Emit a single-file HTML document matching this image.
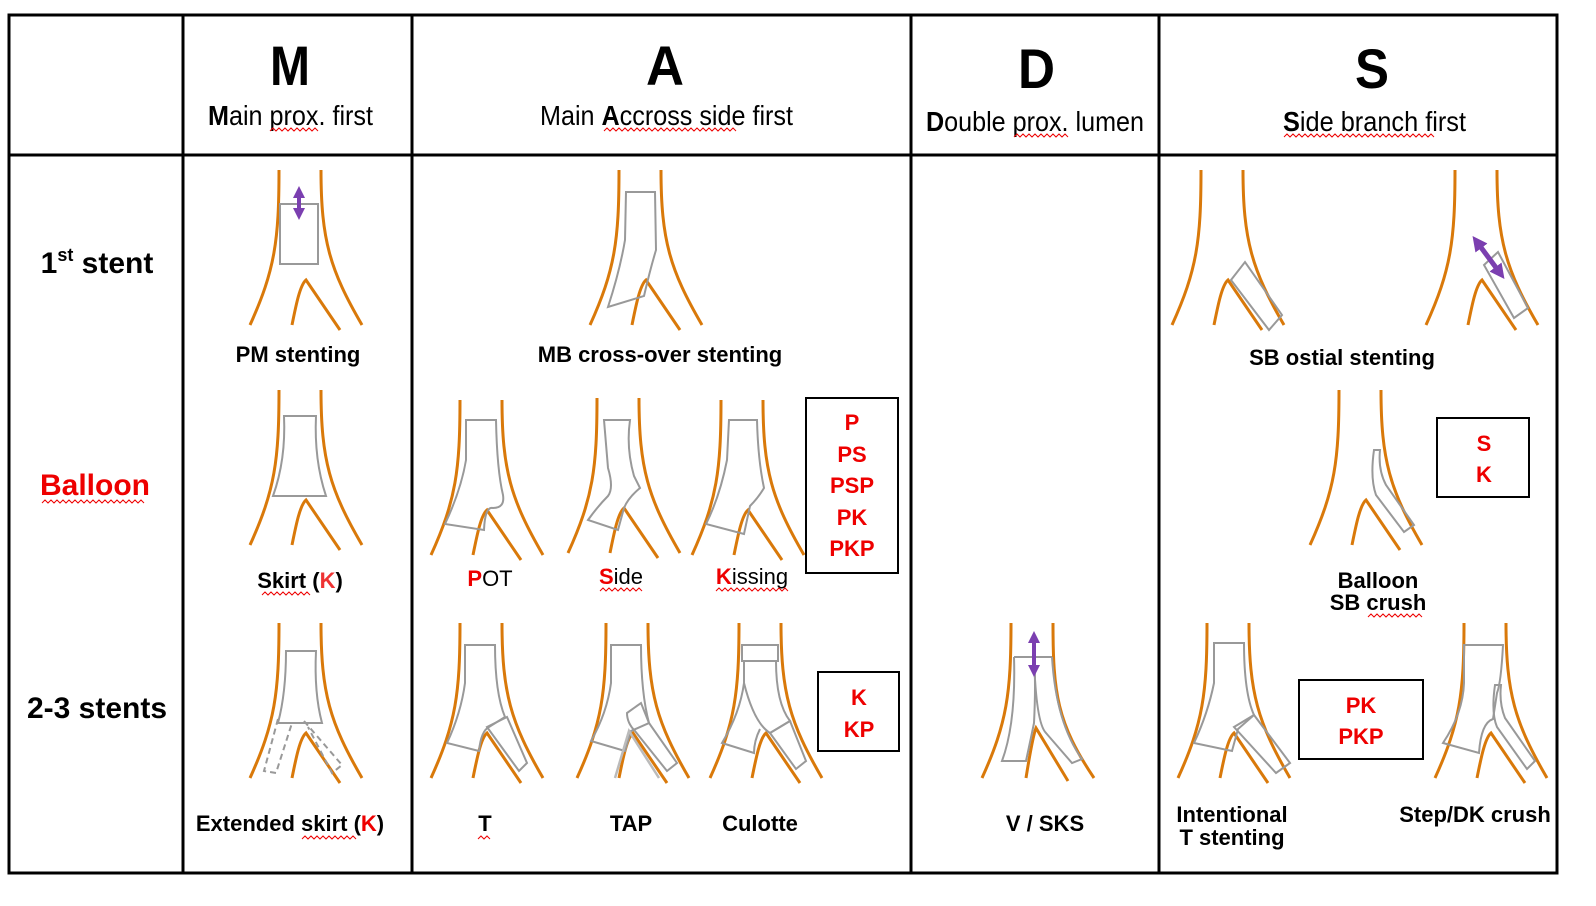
<!DOCTYPE html>
<html><head><meta charset="utf-8"><style>
body{margin:0;background:#fff}
svg{display:block}
text{font-family:"Liberation Sans",Arial,sans-serif}
.b{font-weight:bold}
.v{fill:none;stroke:#d9790a;stroke-width:3}
.s{fill:none;stroke:#999;stroke-width:2}
.d{fill:none;stroke:#999;stroke-width:2;stroke-dasharray:6,4}
.w{fill:none;stroke:#e00;stroke-width:1}
</style></head><body>
<svg width="1596" height="906" viewBox="0 0 1596 906" xmlns="http://www.w3.org/2000/svg">
<defs>
<g id="ves">
<path class="v" d="M-21,0 C-21,70 -25,100 -50,155"/>
<path class="v" d="M21,0 C21,70 30,100 62,155"/>
<path class="v" d="M-8,155 C-4,135 0,115 6,110 L40,160"/>
</g>
<marker id="ar" viewBox="0 0 10 10" refX="5" refY="5" markerWidth="3" markerHeight="3" orient="auto-start-reverse"><path d="M0,0 L10,5 L0,10z" fill="#7b3fb0"/></marker>
</defs>
<g stroke="#000" stroke-width="3" fill="none">
<rect x="9" y="15" width="1548" height="858"/>
<line x1="183" y1="15" x2="183" y2="873"/>
<line x1="412" y1="15" x2="412" y2="873"/>
<line x1="911" y1="15" x2="911" y2="873"/>
<line x1="1159" y1="15" x2="1159" y2="873"/>
<line x1="9" y1="155" x2="1557" y2="155"/>
</g>
<g class="b" font-size="56">
<text x="270" y="85" textLength="40" lengthAdjust="spacingAndGlyphs">M</text>
<text x="646" y="85" textLength="38" lengthAdjust="spacingAndGlyphs">A</text>
<text x="1018" y="88" textLength="37" lengthAdjust="spacingAndGlyphs">D</text>
<text x="1355" y="88" textLength="34" lengthAdjust="spacingAndGlyphs">S</text>
</g>
<g font-size="28">
<text x="208" y="125" textLength="165" lengthAdjust="spacingAndGlyphs"><tspan class="b">M</tspan>ain prox. first</text>
<text x="540" y="125" textLength="253" lengthAdjust="spacingAndGlyphs">Main <tspan class="b">A</tspan>ccross side first</text>
<text x="926" y="131" textLength="218" lengthAdjust="spacingAndGlyphs"><tspan class="b">D</tspan>ouble prox. lumen</text>
<text x="1283" y="131" textLength="183" lengthAdjust="spacingAndGlyphs"><tspan class="b">S</tspan>ide branch first</text>
</g>
<g class="w">
<path d="M270,131 l3,-3 3,3 3,-3 3,3 3,-3 3,3 3,-3 3,3 3,-3 3,3 3,-3 3,3 3,-3 3,3 3,-3 3,3"/>
<path d="M604,131 l3,-3 3,3 3,-3 3,3 3,-3 3,3 3,-3 3,3 3,-3 3,3 3,-3 3,3 3,-3 3,3 3,-3 3,3 3,-3 3,3 3,-3 3,3 3,-3 3,3 3,-3 3,3 3,-3 3,3 3,-3 3,3 3,-3 3,3 3,-3 3,3 3,-3 3,3 3,-3 3,3 3,-3 3,3 3,-3 3,3 3,-3 3,3 3,-3 3,3"/>
<path d="M1014,137 l3,-3 3,3 3,-3 3,3 3,-3 3,3 3,-3 3,3 3,-3 3,3 3,-3 3,3 3,-3 3,3 3,-3 3,3 3,-3 3,3"/>
<path d="M1284,137 l3,-3 3,3 3,-3 3,3 3,-3 3,3 3,-3 3,3 3,-3 3,3 3,-3 3,3 3,-3 3,3 3,-3 3,3 3,-3 3,3 3,-3 3,3 3,-3 3,3 3,-3 3,3 3,-3 3,3 3,-3 3,3 3,-3 3,3 3,-3 3,3 3,-3 3,3 3,-3 3,3 3,-3 3,3 3,-3 3,3 3,-3 3,3 3,-3 3,3 3,-3 3,3 3,-3 3,3 3,-3 3,3"/>
</g>
<g class="b" font-size="30" text-anchor="middle">
<text x="97" y="273">1<tspan font-size="18" dy="-12">st</tspan><tspan dy="12"> stent</tspan></text>
<text x="95" y="495" fill="#e00">Balloon</text>
<text x="97" y="718">2-3 stents</text>
</g>
<path class="w" d="M42,503 l3,-3 3,3 3,-3 3,3 3,-3 3,3 3,-3 3,3 3,-3 3,3 3,-3 3,3 3,-3 3,3 3,-3 3,3 3,-3 3,3 3,-3 3,3 3,-3 3,3 3,-3 3,3 3,-3 3,3 3,-3 3,3 3,-3 3,3 3,-3 3,3 3,-3 3,3"/>

<g transform="translate(300,170)"><use href="#ves"/><path class="s" d="M-20,34 L18,34 L18,94 L-20,94Z"/>
<line x1="-1" y1="22" x2="-1" y2="44" stroke="#7b3fb0" stroke-width="4" marker-start="url(#ar)" marker-end="url(#ar)"/></g>
<g transform="translate(640,170)"><use href="#ves"/><path class="s" d="M-14,22 L15,22 L16,80 Q10,100 4,126 L-32,137 Q-20,100 -15,70Z"/></g>
<g transform="translate(1222,170)"><use href="#ves"/><path class="s" d="M9,110 L23,92 L60,145 L47,160Z"/></g>
<g transform="translate(1476,170)"><use href="#ves"/><path class="s" d="M8,95 L22,82 L52,138 L38,148Z"/>
<line x1="1" y1="72" x2="24" y2="103" stroke="#7b3fb0" stroke-width="5" marker-start="url(#ar)" marker-end="url(#ar)"/></g>
<g class="b" font-size="22" text-anchor="middle">
<text x="298" y="362">PM  stenting</text>
<text x="660" y="362">MB cross-over stenting</text>
<text x="1342" y="365">SB ostial stenting</text>
</g>

<g transform="translate(300,390)"><use href="#ves"/><path class="s" d="M-16,26 L16,26 Q14,70 26,106 L-27,106 Q-14,70 -16,26Z"/></g>
<g transform="translate(481,400)"><use href="#ves"/><path class="s" d="M-15,20 L15,20 Q16,70 22,95 Q24,108 12,108 Q4,106 3,130 L-36,124 Q-20,90 -15,60Z"/></g>
<g transform="translate(618,398)"><use href="#ves"/><path class="s" d="M-14,22 L12,22 Q8,50 16,78 L22,90 Q10,100 6,110 L0,132 L-30,122 Q-20,108 -10,98 Q-4,90 -10,70 Z"/></g>
<g transform="translate(742,400)"><use href="#ves"/><path class="s" d="M-13,20 L15,20 Q16,60 22,88 Q16,98 8,106 L2,134 L-36,124 Q-22,96 -15,60Z"/></g>
<g transform="translate(1360,390)"><use href="#ves"/><path class="s" d="M14,60 L20,60 Q18,80 26,95 L54,135 L44,142 L16,105 Q10,88 14,60Z"/></g>
<rect x="806" y="398" width="92" height="175" fill="none" stroke="#000" stroke-width="2"/>
<g class="b" font-size="22" fill="#e00" text-anchor="middle">
<text x="852" y="430">P</text><text x="852" y="462">PS</text><text x="852" y="493">PSP</text><text x="852" y="525">PK</text><text x="852" y="556">PKP</text>
</g>
<rect x="1437" y="418" width="92" height="79" fill="none" stroke="#000" stroke-width="2"/>
<g class="b" font-size="22" fill="#e00" text-anchor="middle"><text x="1484" y="451">S</text><text x="1484" y="482">K</text></g>
<g font-size="22" text-anchor="middle">
<text x="300" y="588" class="b">Skirt (<tspan fill="#e33">K</tspan>)</text>
<text x="490" y="586"><tspan fill="#e00" class="b">P</tspan>OT</text>
<text x="621" y="584"><tspan fill="#e00" class="b">S</tspan>ide</text>
<text x="752" y="584"><tspan fill="#e00" class="b">K</tspan>issing</text>
<text x="1378" y="588" class="b">Balloon</text>
<text x="1378" y="610" class="b">SB crush</text>
</g>
<g class="w">
<path d="M262,595 l3,-3 3,3 3,-3 3,3 3,-3 3,3 3,-3 3,3 3,-3 3,3 3,-3 3,3 3,-3 3,3 3,-3 3,3"/>
<path d="M600,591 l3,-3 3,3 3,-3 3,3 3,-3 3,3 3,-3 3,3 3,-3 3,3 3,-3 3,3 3,-3 3,3"/>
<path d="M716,591 l3,-3 3,3 3,-3 3,3 3,-3 3,3 3,-3 3,3 3,-3 3,3 3,-3 3,3 3,-3 3,3 3,-3 3,3 3,-3 3,3 3,-3 3,3 3,-3 3,3 3,-3 3,3"/>
<path d="M1368,617 l3,-3 3,3 3,-3 3,3 3,-3 3,3 3,-3 3,3 3,-3 3,3 3,-3 3,3 3,-3 3,3 3,-3 3,3 3,-3 3,3"/>
</g>

<g transform="translate(300,623)"><use href="#ves"/><path class="s" d="M-14,28 L16,28 Q14,70 22,100 L-22,100 Q-14,70 -14,28Z"/>
<path class="d" d="M-22,96 L-36,148 L-24,150 L-8,100"/><path class="d" d="M4,98 L42,142 L32,150 L8,104"/></g>
<g transform="translate(481,623)"><use href="#ves"/><path class="s" d="M-16,22 L14,22 Q14,70 24,94 L8,104 Q0,108 -2,128 L-34,120 Q-20,90 -16,60Z"/><path class="s" d="M6,104 L26,94 L46,140 L38,148Z"/></g>
<g transform="translate(627,623)"><use href="#ves"/><path class="s" d="M-16,22 L14,22 Q14,70 22,100 L4,108 L-2,128 L-36,118 Q-20,90 -16,60Z"/><path class="s" d="M0,90 L14,80 L22,100 L50,140 L40,148 L8,108 Q0,100 0,90Z"/>
<path fill="none" stroke="#bbb" stroke-width="2.5" d="M-12,155 L2,108 L32,155"/></g>
<g transform="translate(760,623)"><use href="#ves"/><path class="s" d="M-18,22 L18,22 L18,38 L-18,38Z"/><path class="s" d="M-16,38 L16,38 Q16,80 30,98 L10,110 Q-6,100 -16,60Z"/><path class="s" d="M0,106 Q-6,118 -6,130 L-38,120 Q-20,90 -16,60"/><path class="s" d="M10,110 L30,98 L46,138 L36,146 Z"/></g>
<g transform="translate(1032,623)">
<path class="v" d="M-21,0 C-21,70 -25,100 -50,155"/><path class="v" d="M21,0 C21,70 25,100 62,155"/><path class="v" d="M-6,155 C-2,130 2,110 4,105 L36,158"/>
<path class="s" d="M-18,34 L20,34"/><path class="s" d="M-18,34 Q-16,100 -30,138 L-6,138 Q0,110 2,100 Q4,60 2,34"/><path class="s" d="M2,34 Q4,100 14,110 L40,140 L50,136 Q24,100 20,34"/>
<line x1="2" y1="14" x2="2" y2="48" stroke="#7b3fb0" stroke-width="4" marker-start="url(#ar)" marker-end="url(#ar)"/></g>
<g transform="translate(1228,623)"><use href="#ves"/><path class="s" d="M-14,20 L16,20 Q16,70 26,92 L10,106 L4,128 L-34,120 Q-20,90 -14,60Z"/><path class="s" d="M6,104 L26,92 L62,140 L48,150Z"/></g>
<g transform="translate(1485,623)"><use href="#ves"/><path class="s" d="M-21,22 L18,22 Q16,60 12,70 L8,96 Q-4,100 -6,130 L-42,120 Q-22,90 -21,60Z"/><path class="s" d="M10,62 L16,62 Q14,80 20,95 L50,138 L42,146 L12,104 Q6,90 10,62Z"/></g>
<rect x="818" y="672" width="81" height="79" fill="none" stroke="#000" stroke-width="2"/>
<g class="b" font-size="22" fill="#e00" text-anchor="middle"><text x="859" y="705">K</text><text x="859" y="737">KP</text></g>
<rect x="1299" y="680" width="124" height="79" fill="none" stroke="#000" stroke-width="2"/>
<g class="b" font-size="22" fill="#e00" text-anchor="middle"><text x="1361" y="713">PK</text><text x="1361" y="744">PKP</text></g>
<g class="b" font-size="22" text-anchor="middle">
<text x="290" y="831">Extended skirt (<tspan fill="#e00">K</tspan>)</text>
<text x="485" y="831">T</text>
<text x="631" y="831">TAP</text>
<text x="760" y="831">Culotte</text>
<text x="1045" y="831">V / SKS</text>
<text x="1232" y="822">Intentional</text>
<text x="1232" y="845"> T stenting</text>
<text x="1475" y="822">Step/DK crush</text>
</g>
<g class="w">
<path d="M302,839 l3,-3 3,3 3,-3 3,3 3,-3 3,3 3,-3 3,3 3,-3 3,3 3,-3 3,3 3,-3 3,3 3,-3 3,3 3,-3 3,3"/>
<path d="M478,839 l3,-3 3,3 3,-3 3,3"/>
</g>
</svg>
</body></html>
